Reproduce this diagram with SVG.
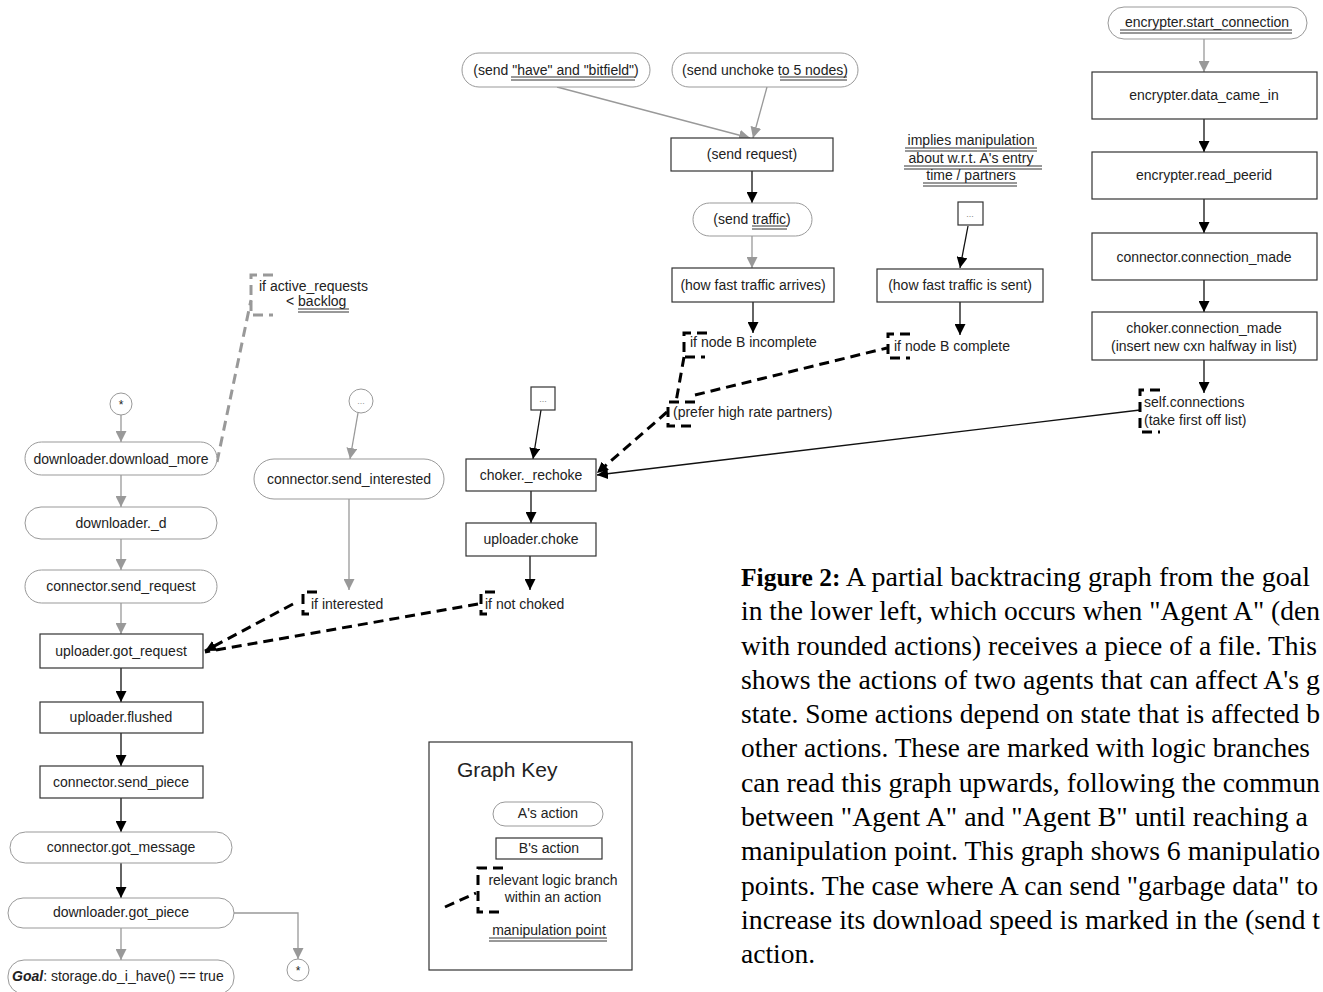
<svg xmlns="http://www.w3.org/2000/svg" width="1323" height="992" viewBox="0 0 1323 992">
<defs>
<style>
.a{fill:#fff;stroke:#999;stroke-width:1}
.b{fill:#fff;stroke:#333;stroke-width:1.2}
.t{font-family:"Liberation Sans",Arial,sans-serif;font-size:14px;fill:#222}
.m{text-anchor:middle}
.g{stroke:#999;stroke-width:1.3;fill:none}
.k{stroke:#111;stroke-width:1.3;fill:none}
.d{stroke:#000;stroke-width:3;stroke-dasharray:10 6;fill:none}
.dg{stroke:#999;stroke-width:3;stroke-dasharray:10 6;fill:none}
.u{stroke:#333;stroke-width:1}
.cap{font-family:"Liberation Serif","Times New Roman",serif;font-size:27.5px;fill:#000}
</style>
<marker id="ag" viewBox="0 0 10 10" refX="10" refY="5" markerWidth="11" markerHeight="11" markerUnits="userSpaceOnUse" orient="auto"><path d="M0,0 L10,5 L0,10 z" fill="#999"/></marker>
<marker id="ak" viewBox="0 0 10 10" refX="10" refY="5" markerWidth="11" markerHeight="11" markerUnits="userSpaceOnUse" orient="auto"><path d="M0,0 L10,5 L0,10 z" fill="#000"/></marker>
</defs>
<rect width="1323" height="992" fill="#fff"/>

<g id="connectors">
<path class="g" d="M121 415 V442" marker-end="url(#ag)"/>
<path class="g" d="M121 475 V507" marker-end="url(#ag)"/>
<path class="g" d="M121 539 V570" marker-end="url(#ag)"/>
<path class="g" d="M121 603 V634" marker-end="url(#ag)"/>
<path class="k" d="M121 668 V702" marker-end="url(#ak)"/>
<path class="k" d="M121 733 V766" marker-end="url(#ak)"/>
<path class="k" d="M121 798 V832" marker-end="url(#ak)"/>
<path class="k" d="M121 863 V898" marker-end="url(#ak)"/>
<path class="g" d="M121 928 V960" marker-end="url(#ag)"/>
<path class="g" d="M234 913 H298 V959" marker-end="url(#ag)"/>
<path class="dg" d="M217 462 L251 300"/>
<path class="g" d="M358 413 L350 459" marker-end="url(#ag)"/>
<path class="g" d="M349 499 V590" marker-end="url(#ag)"/>
<path class="d" d="M293 604 L205 651" marker-end="url(#ak)"/>
<path class="d" d="M478 604 L205 652"/>
<path class="k" d="M541 410 L533 459" marker-end="url(#ak)"/>
<path class="k" d="M531 491 V523" marker-end="url(#ak)"/>
<path class="k" d="M530 556 V590" marker-end="url(#ak)"/>
<path class="g" d="M557 87 L750 138" marker-end="url(#ag)"/>
<path class="g" d="M767 87 L753 138" marker-end="url(#ag)"/>
<path class="k" d="M752 171 V203" marker-end="url(#ak)"/>
<path class="g" d="M752 236 V268" marker-end="url(#ag)"/>
<path class="k" d="M753 302 V333" marker-end="url(#ak)"/>
<path class="k" d="M968 226 L960 268" marker-end="url(#ak)"/>
<path class="k" d="M960 302 V335" marker-end="url(#ak)"/>
<path class="d" d="M684 357 L676 402"/>
<path class="d" d="M695 395 L887 348"/>
<path class="d" d="M667 412 L597 473" marker-end="url(#ak)"/>
<path class="k" d="M1140 410 L597 475" stroke-width="1" marker-end="url(#ak)"/>
<path class="g" d="M1204 39 V72" marker-end="url(#ag)"/>
<path class="k" d="M1204 119 V152" marker-end="url(#ak)"/>
<path class="k" d="M1204 199 V233" marker-end="url(#ak)"/>
<path class="k" d="M1204 280 V312" marker-end="url(#ak)"/>
<path class="k" d="M1204 360 V393" marker-end="url(#ak)"/>
</g>

<g id="n_star1"><circle class="a" cx="121" cy="404" r="11"/><text class="t m" x="121" y="409" style="font-size:12px">*</text></g>
<g id="n_download_more"><rect class="a" x="25" y="442" width="192" height="33" rx="16.5"/><text class="t m" x="121" y="464">downloader.download_more</text></g>
<g id="n_d"><rect class="a" x="25" y="507" width="192" height="32" rx="16"/><text class="t m" x="121" y="528">downloader._d</text></g>
<g id="n_send_request"><rect class="a" x="25" y="570" width="192" height="33" rx="16.5"/><text class="t m" x="121" y="591">connector.send_request</text></g>
<g id="n_got_request"><rect class="b" x="40" y="634" width="163" height="34"/><text class="t m" x="121" y="656">uploader.got_request</text></g>
<g id="n_flushed"><rect class="b" x="40" y="702" width="163" height="31"/><text class="t m" x="121" y="722">uploader.flushed</text></g>
<g id="n_send_piece"><rect class="b" x="40" y="766" width="163" height="32"/><text class="t m" x="121" y="787">connector.send_piece</text></g>
<g id="n_got_message"><rect class="a" x="10" y="832" width="222" height="31" rx="15.5"/><text class="t m" x="121" y="852">connector.got_message</text></g>
<g id="n_got_piece"><rect class="a" x="8" y="898" width="226" height="30" rx="15"/><text class="t m" x="121" y="917">downloader.got_piece</text></g>
<g id="n_goal"><rect class="a" x="8" y="960" width="226" height="34" rx="16"/><text class="t" x="12" y="981"><tspan font-weight="bold" font-style="italic">Goal</tspan>:  storage.do_i_have() == true</text></g>
<g id="n_star2"><circle class="a" cx="298" cy="970" r="11"/><text class="t m" x="298" y="975" style="font-size:12px">*</text></g>

<g id="n_active_requests"><path class="dg" d="M273 275 H251 V315 H273"/><text class="t" x="259" y="291">if active_requests</text><text class="t" x="286" y="306">&lt; backlog</text><line class="u" x1="298" y1="309" x2="349" y2="309"/><line class="u" x1="298" y1="312" x2="349" y2="312"/></g>

<g id="n_dots1"><circle class="a" cx="361" cy="401" r="12"/><text class="t m" x="361" y="404" style="font-size:9px;fill:#999">...</text></g>
<g id="n_send_interested"><rect class="a" x="254" y="459" width="190" height="40" rx="20"/><text class="t m" x="349" y="484">connector.send_interested</text></g>
<g id="n_if_interested"><path class="d" d="M317 592 H303 V614 H313"/><text class="t" x="311" y="609">if interested</text></g>

<g id="n_dots2"><rect class="b" x="531" y="387" width="24" height="23"/><text class="t m" x="543" y="402" style="font-size:9px;fill:#888">...</text></g>
<g id="n_rechoke"><rect class="b" x="466" y="459" width="130" height="32"/><text class="t m" x="531" y="480">choker._rechoke</text></g>
<g id="n_uploader_choke"><rect class="b" x="466" y="523" width="130" height="33"/><text class="t m" x="531" y="544">uploader.choke</text></g>
<g id="n_if_not_choked"><path class="d" d="M495 592 H481 V614 H489"/><text class="t" x="485" y="609">if not choked</text></g>

<g id="n_have_bitfield"><rect class="a" x="462" y="53" width="188" height="34" rx="17"/><text class="t m" x="556" y="75">(send "have" and "bitfield")</text><line class="u" x1="511" y1="77" x2="635" y2="77"/><line class="u" x1="511" y1="80" x2="635" y2="80"/></g>
<g id="n_unchoke"><rect class="a" x="672" y="53" width="186" height="34" rx="17"/><text class="t m" x="765" y="75">(send unchoke to 5 nodes)</text><line class="u" x1="780" y1="77" x2="847" y2="77"/><line class="u" x1="780" y1="80" x2="847" y2="80"/></g>
<g id="n_send_request_b"><rect class="b" x="671" y="138" width="162" height="33"/><text class="t m" x="752" y="159">(send request)</text></g>
<g id="n_send_traffic"><rect class="a" x="693" y="203" width="119" height="33" rx="16.5"/><text class="t m" x="752" y="224">(send traffic)</text><line class="u" x1="752" y1="226" x2="787" y2="226"/><line class="u" x1="752" y1="229" x2="787" y2="229"/></g>
<g id="n_arrives"><rect class="b" x="672" y="268" width="162" height="34"/><text class="t m" x="753" y="290">(how fast traffic arrives)</text></g>
<g id="n_if_incomplete"><path class="d" d="M707 333 H684 V357 H705"/><text class="t" x="690" y="347">if node B incomplete</text></g>
<g id="n_prefer"><path class="d" d="M695 402 H668 V426 H695"/><text class="t" x="673" y="417">(prefer high rate partners)</text></g>

<g id="n_implies"><text class="t m" x="971" y="145">implies manipulation</text><text class="t m" x="971" y="163">about w.r.t. A's entry</text><text class="t m" x="971" y="180">time / partners</text>
<line class="u" x1="905" y1="148" x2="1037" y2="148"/><line class="u" x1="905" y1="151" x2="1037" y2="151"/>
<line class="u" x1="904" y1="166" x2="1042" y2="166"/><line class="u" x1="904" y1="169" x2="1042" y2="169"/>
<line class="u" x1="923" y1="183" x2="1017" y2="183"/><line class="u" x1="923" y1="186" x2="1017" y2="186"/></g>
<g id="n_dots3"><rect class="b" x="958" y="202" width="25" height="23"/><text class="t m" x="970" y="217" style="font-size:9px;fill:#888">...</text></g>
<g id="n_sent"><rect class="b" x="877" y="269" width="166" height="33"/><text class="t m" x="960" y="290">(how fast traffic is sent)</text></g>
<g id="n_if_complete"><path class="d" d="M910 334 H888 V358 H910"/><text class="t" x="894" y="351">if node B complete</text></g>

<g id="n_start_connection"><rect class="a" x="1108" y="7" width="199" height="32" rx="16"/><text class="t m" x="1207" y="27">encrypter.start_connection</text><line class="u" x1="1120" y1="30" x2="1292" y2="30"/><line class="u" x1="1120" y1="33" x2="1292" y2="33"/></g>
<g id="n_data_came_in"><rect class="b" x="1092" y="72" width="225" height="47"/><text class="t m" x="1204" y="100">encrypter.data_came_in</text></g>
<g id="n_read_peerid"><rect class="b" x="1092" y="152" width="225" height="47"/><text class="t m" x="1204" y="180">encrypter.read_peerid</text></g>
<g id="n_connection_made"><rect class="b" x="1092" y="233" width="225" height="47"/><text class="t m" x="1204" y="262">connector.connection_made</text></g>
<g id="n_choker_connection_made"><rect class="b" x="1092" y="312" width="225" height="48"/><text class="t m" x="1204" y="333">choker.connection_made</text><text class="t m" x="1204" y="351">(insert new cxn halfway in list)</text></g>
<g id="n_self_connections"><path class="d" d="M1160 390 H1140 V432 H1160"/><text class="t" x="1144" y="407">self.connections</text><text class="t" x="1144" y="425">(take first off list)</text></g>

<g id="key">
<rect x="429" y="742" width="203" height="228" fill="#fff" stroke="#333" stroke-width="1.2"/>
<text class="t" x="457" y="777" style="font-size:21px">Graph Key</text>
<rect class="a" x="493" y="802" width="110" height="24" rx="12"/><text class="t m" x="548" y="818">A's action</text>
<rect class="b" x="496" y="838" width="106" height="21"/><text class="t m" x="549" y="853">B's action</text>
<path class="d" d="M503 868 H478 V912 H503"/><path class="d" d="M445 907 L476 893"/>
<text class="t m" x="553" y="885">relevant logic branch</text>
<text class="t m" x="553" y="902">within an action</text>
<text class="t m" x="549" y="935">manipulation point</text>
<line class="u" x1="489" y1="938" x2="607" y2="938"/><line class="u" x1="489" y1="941" x2="607" y2="941"/>
</g>

<g id="caption">
<text class="cap" x="741" y="586" textLength="569" lengthAdjust="spacingAndGlyphs"><tspan font-weight="bold" style="font-size:25px">Figure 2:</tspan> A partial backtracing graph from the goal</text>
<text class="cap" x="741" y="620" textLength="579" lengthAdjust="spacingAndGlyphs">in the lower left, which occurs when "Agent A" (den</text>
<text class="cap" x="741" y="655" textLength="576" lengthAdjust="spacingAndGlyphs">with rounded actions) receives a piece of a file. This</text>
<text class="cap" x="741" y="689" textLength="579" lengthAdjust="spacingAndGlyphs">shows the actions of two agents that can affect A's g</text>
<text class="cap" x="741" y="723" textLength="579" lengthAdjust="spacingAndGlyphs">state. Some actions depend on state that is affected b</text>
<text class="cap" x="741" y="757" textLength="569" lengthAdjust="spacingAndGlyphs">other actions. These are marked with logic branches</text>
<text class="cap" x="741" y="792" textLength="579" lengthAdjust="spacingAndGlyphs">can read this graph upwards, following the commun</text>
<text class="cap" x="741" y="826" textLength="567" lengthAdjust="spacingAndGlyphs">between "Agent A" and "Agent B" until reaching a</text>
<text class="cap" x="741" y="860" textLength="579" lengthAdjust="spacingAndGlyphs">manipulation point. This graph shows 6 manipulatio</text>
<text class="cap" x="741" y="895" textLength="577" lengthAdjust="spacingAndGlyphs">points. The case where A can send "garbage data" to</text>
<text class="cap" x="741" y="929" textLength="579" lengthAdjust="spacingAndGlyphs">increase its download speed is marked in the (send t</text>
<text class="cap" x="741" y="963">action.</text>
</g>
</svg>
